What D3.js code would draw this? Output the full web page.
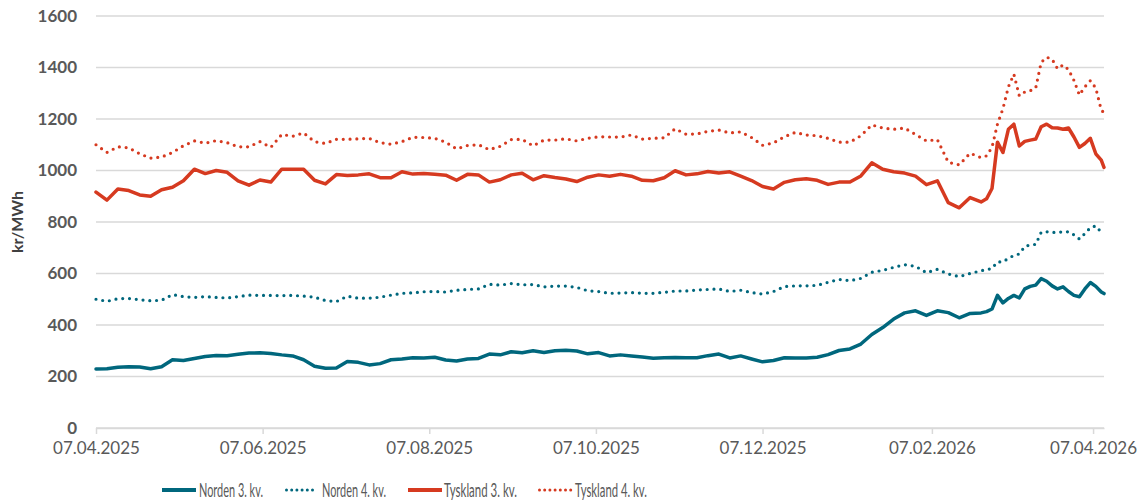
<!DOCTYPE html>
<html>
<head>
<meta charset="utf-8">
<script src="https://cdn.jsdelivr.net/npm/d3@7"></script>
<style>
  body { margin: 0; background: #fff; }
  svg { display: block; font-family: Lato, "Open Sans", sans-serif; }
</style>
</head>
<body>
<svg id="chart" width="1145" height="504"></svg>
<script>
// Dates of the samples
const dates = [
  "2025-04-07","2025-04-11","2025-04-15","2025-04-19","2025-04-23","2025-04-27","2025-05-01","2025-05-05",
  "2025-05-09","2025-05-13","2025-05-17","2025-05-21","2025-05-25","2025-05-29","2025-06-02","2025-06-06",
  "2025-06-10","2025-06-14","2025-06-18","2025-06-22","2025-06-26","2025-06-30","2025-07-04","2025-07-08",
  "2025-07-12","2025-07-16","2025-07-20","2025-07-24","2025-07-28","2025-08-01","2025-08-05","2025-08-09",
  "2025-08-13","2025-08-17","2025-08-21","2025-08-25","2025-08-29","2025-09-02","2025-09-06","2025-09-10",
  "2025-09-14","2025-09-18","2025-09-22","2025-09-26","2025-09-30","2025-10-04","2025-10-08","2025-10-12",
  "2025-10-16","2025-10-20","2025-10-24","2025-10-28","2025-11-01","2025-11-05","2025-11-09","2025-11-13",
  "2025-11-17","2025-11-21","2025-11-25","2025-11-29","2025-12-03","2025-12-07","2025-12-11","2025-12-15",
  "2025-12-19","2025-12-23","2025-12-27","2025-12-31","2026-01-04","2026-01-08","2026-01-12","2026-01-16",
  "2026-01-20","2026-01-24","2026-01-28","2026-02-01","2026-02-05","2026-02-09","2026-02-13","2026-02-17",
  "2026-02-21","2026-02-25","2026-02-27","2026-03-01","2026-03-03","2026-03-05","2026-03-07","2026-03-09",
  "2026-03-11","2026-03-13","2026-03-15","2026-03-17","2026-03-19","2026-03-21","2026-03-23","2026-03-25",
  "2026-03-27","2026-03-29","2026-03-31","2026-04-02","2026-04-04","2026-04-06","2026-04-08","2026-04-10",
  "2026-04-11"
];

const norden3 = [
  229,230,236,238,237,230,238,265, 262,270,278,282,281,286,291,292,
  289,284,280,265,240,232,233,258, 255,245,250,265,268,273,272,275,
  264,260,268,270,287,284,296,292, 300,293,300,302,299,288,293,280,
  284,280,276,271,273,274,273,273, 281,287,272,280,268,257,262,273,
  272,272,275,285,301,307,326,363, 390,423,447,455,437,455,448,428,
  445,447,452,462,515,486,503,515, 505,540,550,555,580,570,552,540,
  548,530,515,510,540,565,550,528, 522
];

const norden4 = [
  500,492,502,503,498,494,496,518, 510,507,510,507,505,510,516,515,
  515,514,515,512,508,495,491,512, 504,504,508,516,523,525,529,530,
  528,535,538,540,558,555,561,556, 557,548,551,551,546,533,530,523,
  524,526,523,523,527,532,532,536, 538,540,530,535,526,520,530,549,
  552,552,554,566,577,572,581,605, 612,624,634,628,603,616,598,588,
  600,611,614,620,645,645,659,670, 676,705,711,713,760,762,760,759,
  762,762,750,734,755,778,785,760, 756
];

const tysk3 = [
  916,885,928,922,905,900,925,935, 960,1005,988,1000,993,960,943,963,
  955,1005,1005,1005,962,948,984,981, 983,987,972,972,995,986,988,985,
  982,962,985,983,955,964,983,989, 964,980,973,967,957,974,983,978,
  985,978,962,960,972,999,983,987, 996,990,995,978,961,938,928,954,
  964,968,962,946,955,955,979,1030, 1005,995,990,978,945,960,875,855,
  895,878,890,930,1110,1070,1160,1180, 1095,1113,1118,1122,1170,1180,1166,1165,
  1160,1165,1130,1090,1105,1125,1065,1040, 1012
];

const tysk4 = [
  1100,1070,1092,1088,1065,1048,1052,1070, 1096,1115,1106,1116,1108,1092,1092,1112,
  1090,1140,1133,1146,1112,1105,1121,1121, 1123,1125,1108,1102,1112,1129,1128,1125,
  1110,1084,1097,1100,1081,1094,1120,1121, 1096,1118,1118,1123,1115,1125,1131,1130,
  1130,1138,1122,1125,1127,1162,1141,1142, 1152,1157,1146,1150,1128,1098,1107,1131,
  1148,1138,1135,1125,1110,1110,1135,1177, 1165,1160,1165,1140,1115,1120,1032,1022,
  1067,1050,1057,1090,1180,1240,1325,1374, 1290,1305,1310,1320,1420,1440,1432,1395,
  1410,1392,1350,1293,1325,1349,1320,1235, 1224
];

const yTicks = [0, 200, 400, 600, 800, 1000, 1200, 1400, 1600];
const xTickDates = ["2025-04-07","2025-06-07","2025-08-07","2025-10-07","2025-12-07","2026-02-07","2026-04-07"];
const seriesNames = ["Norden 3. kv.", "Norden 4. kv.", "Tyskland 3. kv.", "Tyskland 4. kv."];

const TEAL = "#00677d", RED = "#d63a20";

const parse = d3.timeParse("%Y-%m-%d");
const fmt = d3.timeFormat("%d.%m.%Y");

const series = [
  { name: seriesNames[0], values: norden3, color: TEAL, dotted: false },
  { name: seriesNames[1], values: norden4, color: TEAL, dotted: true },
  { name: seriesNames[2], values: tysk3, color: RED, dotted: false },
  { name: seriesNames[3], values: tysk4, color: RED, dotted: true }
];

const svg = d3.select("#chart");

// scales: 07.04.2025 sits at the left edge, the axis runs a few days past 07.04.2026
const x = d3.scaleTime()
  .domain([parse("2025-04-07"), parse("2026-04-11")])
  .range([96, 1104]);
const y = d3.scaleLinear()
  .domain([0, 1600])
  .range([428, 16]);

// gridlines
svg.append("g")
  .selectAll("line")
  .data(yTicks)
  .enter()
  .append("line")
  .attr("x1", x.range()[0])
  .attr("x2", x.range()[1])
  .attr("y1", d => y(d))
  .attr("y2", d => y(d))
  .attr("stroke", "#d9d9d9")
  .attr("stroke-width", 1.5);

// y axis labels
const yAxis = svg.append("g")
  .attr("transform", `translate(${x.range()[0]},0)`)
  .call(d3.axisLeft(y).tickValues(yTicks).tickFormat(d3.format("d")).tickSize(0).tickPadding(19));
yAxis.select(".domain").remove();
yAxis.selectAll("text")
  .attr("font-family", "Lato, sans-serif")
  .attr("font-size", 17)
  .attr("font-weight", "bold")
  .attr("fill", "#595959");

// x axis
const xAxis = svg.append("g")
  .attr("transform", `translate(0,${y(0)})`)
  .call(d3.axisBottom(x)
    .tickValues(xTickDates.map(parse))
    .tickFormat(fmt)
    .tickSize(6)
    .tickSizeOuter(0)
    .tickPadding(8));
xAxis.select(".domain").attr("stroke", "#d9d9d9").attr("stroke-width", 1.5);
xAxis.selectAll(".tick line").attr("stroke", "#d9d9d9").attr("stroke-width", 1.5);
xAxis.selectAll("text")
  .attr("font-family", "Lato, sans-serif")
  .attr("font-size", 17)
  .attr("fill", "#595959");

// y axis title
svg.append("text")
  .attr("transform", "translate(23,222) rotate(-90)")
  .attr("text-anchor", "middle")
  .attr("font-size", 16)
  .attr("font-weight", "bold")
  .attr("fill", "#404040")
  .text("kr/MWh");

// lines
const line = d3.line()
  .x((d, i) => x(parse(dates[i])))
  .y(d => y(d));

svg.append("g")
  .selectAll("path")
  .data(series)
  .enter()
  .append("path")
  .attr("fill", "none")
  .attr("stroke", d => d.color)
  .attr("stroke-width", d => d.dotted ? 3.2 : 3.5)
  .attr("stroke-linejoin", "round")
  .attr("stroke-linecap", "round")
  .attr("stroke-dasharray", d => d.dotted ? "0 6.8" : null)
  .attr("d", d => line(d.values));

// legend (the original font is narrow, so the labels are squeezed to its widths)
const legendX = [162, 285, 408, 538];
const legendLen = [34, 30, 34, 35];
const legendTextW = [64, 64, 73, 72];
const legend = svg.append("g")
  .selectAll("g")
  .data(series)
  .enter()
  .append("g")
  .attr("transform", (d, i) => `translate(${legendX[i]},490)`);

legend.append("line")
  .attr("x1", d => d.dotted ? 1.5 : 0)
  .attr("x2", (d, i) => legendLen[i])
  .attr("stroke", d => d.color)
  .attr("stroke-width", d => d.dotted ? 3 : 4)
  .attr("stroke-linecap", d => d.dotted ? "round" : "butt")
  .attr("stroke-dasharray", d => d.dotted ? "0 5.2" : null);

legend.append("text")
  .attr("x", (d, i) => i === 2 ? 36 : 37)
  .attr("y", 6.5)
  .attr("font-size", 18.5)
  .attr("fill", "#595959")
  .attr("textLength", (d, i) => legendTextW[i])
  .attr("lengthAdjust", "spacingAndGlyphs")
  .text(d => d.name);
</script>
</body>
</html>
